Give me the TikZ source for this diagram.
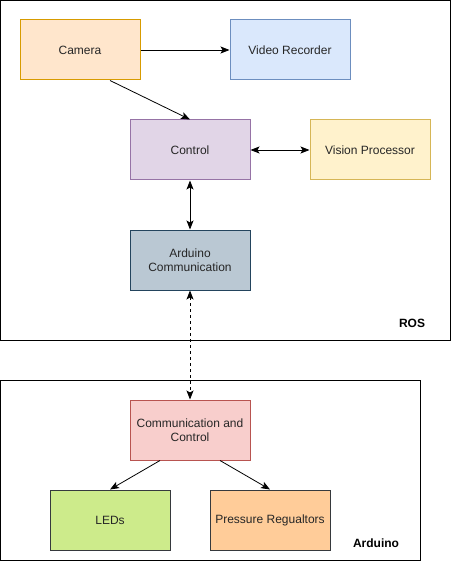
\documentclass[tikz,border=0pt]{standalone}
\usepackage{fontspec}
\setmainfont{Liberation Sans}
\usetikzlibrary{arrows.meta}
\definecolor{camF}{HTML}{FFE6CC}\definecolor{camS}{HTML}{D79B00}
\definecolor{vidF}{HTML}{DAE8FC}\definecolor{vidS}{HTML}{6C8EBF}
\definecolor{ctlF}{HTML}{E1D5E7}\definecolor{ctlS}{HTML}{9673A6}
\definecolor{visF}{HTML}{FFF2CC}\definecolor{visS}{HTML}{D6B656}
\definecolor{ardF}{HTML}{BAC8D3}\definecolor{ardS}{HTML}{23445D}
\definecolor{cacF}{HTML}{F8CECC}\definecolor{cacS}{HTML}{B85450}
\definecolor{ledF}{HTML}{CDEB8B}\definecolor{ledS}{HTML}{36393D}
\definecolor{preF}{HTML}{FFCC99}\definecolor{preS}{HTML}{36393D}
\tikzset{
  blk/.style={draw, line width=1pt, minimum width=120pt, minimum height=60pt, inner sep=0pt, align=center, font=\fontsize{12pt}{14.5pt}\selectfont, text=black!85},
  grp/.style={draw, line width=1pt},
  arr/.style={-{Stealth[length=9pt,width=7pt,inset=2pt]}, line width=0.8pt},
  darr/.style={{Stealth[length=9pt,width=7pt,inset=2pt]}-{Stealth[length=9pt,width=7pt,inset=2pt]}, line width=0.8pt},
  lbl/.style={font=\bfseries\fontsize{12pt}{14pt}\selectfont}
}
\begin{document}
\begin{tikzpicture}[x=1pt,y=-1pt]
\useasboundingbox (0,0) rectangle (451,561);
\draw[grp] (0.5,0.5) rectangle (450,340);
\draw[grp] (0.5,380) rectangle (420,560);
\node[lbl] (ros) at (412,323) {ROS};
\node[lbl] (ard) at (376,543) {Arduino};
\node[blk, fill=camF, draw=camS] (cam) at (80,50) {Camera};
\node[blk, fill=vidF, draw=vidS] (vid) at (290,50) {Video Recorder};
\node[blk, fill=ctlF, draw=ctlS] (ctl) at (190,150) {Control};
\node[blk, fill=visF, draw=visS] (vis) at (370,150) {Vision Processor};
\node[blk, fill=ardF, draw=ardS] (acom) at (190,260) {Arduino\\Communication};
\node[blk, fill=cacF, draw=cacS] (cac) at (190,430) {Communication and\\Control};
\node[blk, fill=ledF, draw=ledS] (led) at (110,520) {LEDs};
\node[blk, fill=preF, draw=preS] (pre) at (270,520) {Pressure Regualtors};
\draw[arr] (cam.east) -- (vid.west);
\draw[arr] ([xshift=30pt]cam.south) -- (ctl.north);
\draw[darr] (ctl.east) -- (vis.west);
\draw[darr] (ctl.south) -- (acom.north);
\draw[darr, dashed, dash pattern=on 3pt off 3pt] (acom.south) -- (cac.north);
\draw[arr] ([xshift=-30pt]cac.south) -- (led.north);
\draw[arr] ([xshift=30pt]cac.south) -- (pre.north);
\end{tikzpicture}
\end{document}
